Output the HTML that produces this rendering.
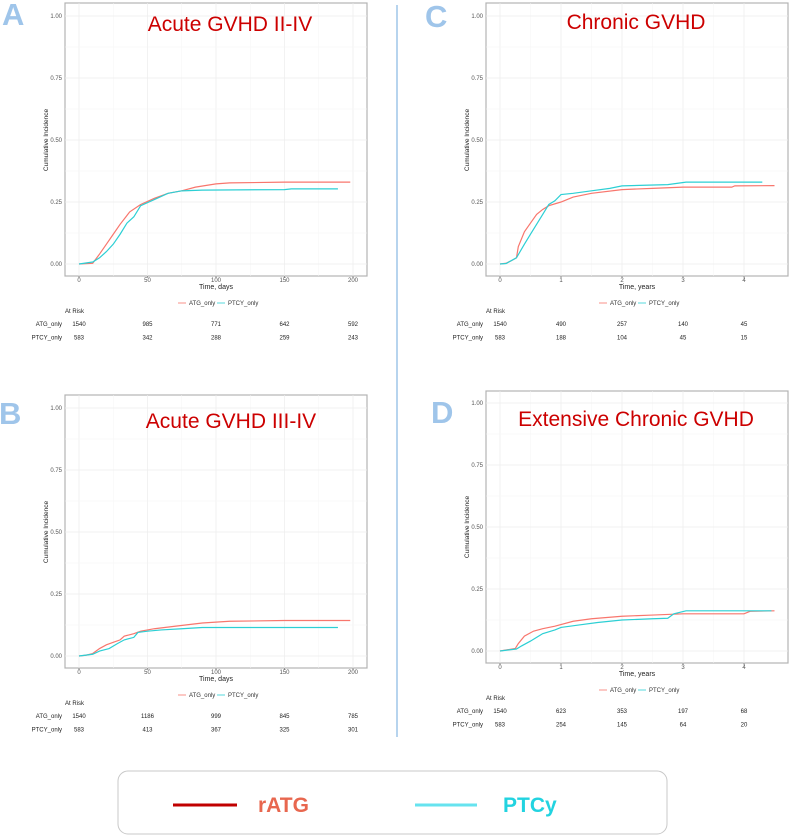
<!DOCTYPE html>
<html><head><meta charset="utf-8"><style>
body{margin:0;background:#fff;}
svg{display:block;font-family:"Liberation Sans",sans-serif;}
</style></head><body>
<svg id="fig" width="790" height="837" viewBox="0 0 790 837">
<line x1="397" y1="5" x2="397" y2="737" stroke="#6fa8dc" stroke-width="1"/>
<g>
<rect x="118" y="771" width="549" height="63" rx="10" fill="#fff" stroke="#c8c8c8" stroke-width="1"/>
<line x1="173" y1="805" x2="237" y2="805" stroke="#c00000" stroke-width="3"/>
<text x="258" y="812" font-size="21" font-weight="bold" fill="#e8674f">rATG</text>
<line x1="415" y1="805" x2="477" y2="805" stroke="#66e3ef" stroke-width="3"/>
<text x="503" y="812" font-size="21" font-weight="bold" fill="#22d3e0">PTCy</text>
</g>
</svg>
<script>
// Panel A data (days)
const aAtgT=[0,10,15,20,25,30,37,45,55,65,75,85,100,110,150,198];
const aAtgV=[0,0.003,0.04,0.08,0.12,0.16,0.21,0.24,0.265,0.285,0.295,0.31,0.323,0.327,0.33,0.33];
const aPtT=[0,10,15,20,25,30,35,40,45,55,65,75,90,150,155,189];
const aPtV=[0,0.008,0.025,0.05,0.08,0.12,0.165,0.19,0.235,0.26,0.285,0.295,0.298,0.30,0.303,0.303];
const aRiskAtg=[1540,985,771,642,592];
const aRiskPt=[583,342,288,259,243];
// Panel B data (days)
const bAtgT=[0,5,10,15,20,25,30,33,40,45,55,70,90,110,150,198];
const bAtgV=[0,0.003,0.01,0.03,0.045,0.055,0.065,0.08,0.09,0.1,0.11,0.12,0.133,0.14,0.143,0.143];
const bPtT=[0,10,15,22,28,33,40,43,50,60,75,90,189];
const bPtV=[0,0.007,0.02,0.03,0.05,0.065,0.075,0.095,0.1,0.105,0.11,0.115,0.115];
const bRiskAtg=[1540,1186,999,845,785];
const bRiskPt=[583,413,367,325,301];
// Panel C data (years)
const cAtgT=[0,0.1,0.2,0.27,0.3,0.4,0.5,0.6,0.7,0.8,1,1.2,1.5,2,2.5,3,3.8,3.85,4.5];
const cAtgV=[0,0.003,0.015,0.025,0.07,0.13,0.165,0.2,0.22,0.235,0.25,0.27,0.285,0.3,0.305,0.31,0.31,0.315,0.316];
const cPtT=[0,0.1,0.27,0.4,0.5,0.6,0.7,0.8,0.9,1,1.2,1.5,1.8,2,2.75,3.05,4.3];
const cPtV=[0,0.002,0.025,0.08,0.12,0.16,0.2,0.24,0.255,0.28,0.285,0.295,0.305,0.315,0.32,0.33,0.33];
const cRiskAtg=[1540,490,257,140,45];
const cRiskPt=[583,188,104,45,15];
// Panel D data (years)
const dAtgT=[0,0.25,0.3,0.4,0.55,0.7,0.9,1.2,1.5,2,2.5,3,4,4.1,4.5];
const dAtgV=[0,0.01,0.03,0.06,0.08,0.09,0.1,0.12,0.13,0.14,0.145,0.15,0.15,0.16,0.162];
const dPtT=[0,0.27,0.35,0.5,0.7,0.9,1,1.3,1.6,2,2.5,2.75,2.85,3.05,4.45];
const dPtV=[0,0.008,0.02,0.04,0.07,0.085,0.095,0.105,0.115,0.125,0.13,0.132,0.15,0.162,0.162];
const dRiskAtg=[1540,623,353,197,68];
const dRiskPt=[583,254,145,64,20];
const dayTicks=[0,50,100,150,200];
const yearTicks=[0,1,2,3,4];
const yTicks=[0,0.25,0.5,0.75,1];
const yTickLabels=["0.00","0.25","0.50","0.75","1.00"];

const NS="http://www.w3.org/2000/svg";
const svg=document.getElementById('fig');
function mk(tag,attrs,parent,txt){const e=document.createElementNS(NS,tag);for(const k in attrs)e.setAttribute(k,attrs[k]);if(txt!==undefined)e.textContent=txt;(parent||svg).appendChild(e);return e;}

function panel(p){
  const g=mk('g',{});
  
  
  const xs=v=>p.x0+(v-p.xTicks[0])/(p.xTicks[p.xTicks.length-1]-p.xTicks[0])*(p.x1-p.x0);
  const ys=v=>p.y0-v*(p.y0-p.y1);
  const fr=mk('rect',{x:p.fl,y:p.ft,width:p.fr-p.fl,height:p.fb-p.ft,fill:'#fff',stroke:'#b3b3b3','stroke-width':1.2},g);
  
  // grid
  for(let i=0;i<p.xTicks.length;i++){
    const xv=xs(p.xTicks[i]);
    mk('line',{x1:xv,x2:xv,y1:p.ft,y2:p.fb,stroke:'#ececec','stroke-width':0.7},g);
    if(i<p.xTicks.length-1){const xm=(xv+xs(p.xTicks[i+1]))/2;mk('line',{x1:xm,x2:xm,y1:p.ft,y2:p.fb,stroke:'#f5f5f5','stroke-width':0.5},g);}
    const t=mk('text',{x:xv,y:p.fb+6,'font-size':6,fill:'#555','text-anchor':'middle'},g,p.xTicks[i]);
    
    mk('line',{x1:xv,x2:xv,y1:p.fb,y2:p.fb+2,stroke:'#555','stroke-width':0.5},g);
  }
  for(let i=0;i<yTicks.length;i++){
    const yv=ys(yTicks[i]);
    mk('line',{x1:p.fl,x2:p.fr,y1:yv,y2:yv,stroke:'#ececec','stroke-width':0.7},g);
    if(i<yTicks.length-1){const ym=(yv+ys(yTicks[i+1]))/2;mk('line',{x1:p.fl,x2:p.fr,y1:ym,y2:ym,stroke:'#f5f5f5','stroke-width':0.5},g);}
    const t=mk('text',{x:p.fl-3,y:yv+2,'font-size':6,fill:'#555','text-anchor':'end'},g,yTickLabels[i]);
    
  }
  const yt=mk('text',{transform:`translate(${p.fl-17},${(p.y0+p.y1)/2}) rotate(-90)`,'font-size':6.5,fill:'#222','text-anchor':'middle'},g,'Cumulative Incidence');
  
  const xt=mk('text',{x:(p.fl+p.fr)/2,y:p.fb+13,'font-size':7,fill:'#222','text-anchor':'middle'},g,p.xTitle);
  
  // curves
  function step(T,V,col,name){
    let d='M'+xs(T[0])+','+ys(V[0]);
    for(let i=1;i<T.length;i++){d+=' L'+xs(T[i])+','+ys(V[i]);}
    const pa=mk('path',{d:d,fill:'none',stroke:col,'stroke-width':1.2},g);
    
  }
  step(p.atgT,p.atgV,'#f8766d','atg-curve');
  step(p.ptT,p.ptV,'#2ccfd4','ptcy-curve');
  // title and letter
  const ti=mk('text',{x:p.tx,y:p.ty,'font-size':21,fill:'#cc0000','text-anchor':'middle'},g,p.title);
  
  const le=mk('text',{x:p.lx,y:p.ly,'font-size':31,'font-weight':'bold',fill:'#9fc5ea'},g,p.id.toUpperCase());
  
  // small legend
  const lc=(p.fl+p.fr)/2, ly=p.fb+27;
  mk('line',{x1:lc-38,x2:lc-30,y1:ly,y2:ly,stroke:'#f8766d','stroke-width':0.8},g);
  const l1=mk('text',{x:lc-27,y:ly+2,'font-size':6,fill:'#333'},g,'ATG_only');
  
  mk('line',{x1:lc+1,x2:lc+9,y1:ly,y2:ly,stroke:'#2ccfd4','stroke-width':0.8},g);
  const l2=mk('text',{x:lc+12,y:ly+2,'font-size':6,fill:'#333'},g,'PTCY_only');
  
  // at risk
  const ar=mk('text',{x:p.fl,y:p.fb+37,'font-size':6,fill:'#222'},g,'At Risk');
  
  const rows=[['ATG_only',p.riskAtg],['PTCY_only',p.riskPt]];
  rows.forEach((r,ri)=>{
    const yy=p.fb+50+ri*13.5;
    const lb=mk('text',{x:p.fl-3,y:yy,'font-size':6,fill:'#222','text-anchor':'end'},g,r[0]);
    
    r[1].forEach((v,i)=>{
      const c=mk('text',{x:xs(p.xTicks[i]),y:yy,'font-size':6,fill:'#222','text-anchor':'middle'},g,v);
      
    });
  });
}
panel({id:'a',fl:65,fr:367,ft:3,fb:276,x0:79,x1:353,y0:264,y1:16,xTicks:dayTicks,xTitle:'Time, days',
  atgT:aAtgT,atgV:aAtgV,ptT:aPtT,ptV:aPtV,riskAtg:aRiskAtg,riskPt:aRiskPt,title:'Acute GVHD II-IV',tx:230,ty:31,lx:2,ly:25});
panel({id:'b',fl:65,fr:367,ft:395,fb:668,x0:79,x1:353,y0:656,y1:408,xTicks:dayTicks,xTitle:'Time, days',
  atgT:bAtgT,atgV:bAtgV,ptT:bPtT,ptV:bPtV,riskAtg:bRiskAtg,riskPt:bRiskPt,title:'Acute GVHD III-IV',tx:231,ty:428,lx:-1,ly:424});
panel({id:'c',fl:486,fr:788,ft:3,fb:276,x0:500,x1:744,y0:264,y1:16,xTicks:yearTicks,xTitle:'Time, years',
  atgT:cAtgT,atgV:cAtgV,ptT:cPtT,ptV:cPtV,riskAtg:cRiskAtg,riskPt:cRiskPt,title:'Chronic GVHD',tx:636,ty:29,lx:425,ly:27});
panel({id:'d',fl:486,fr:788,ft:391,fb:663,x0:500,x1:744,y0:651,y1:403,xTicks:yearTicks,xTitle:'Time, years',
  atgT:dAtgT,atgV:dAtgV,ptT:dPtT,ptV:dPtV,riskAtg:dRiskAtg,riskPt:dRiskPt,title:'Extensive  Chronic GVHD',tx:636,ty:426,lx:431,ly:423});
</script>
</body></html>
